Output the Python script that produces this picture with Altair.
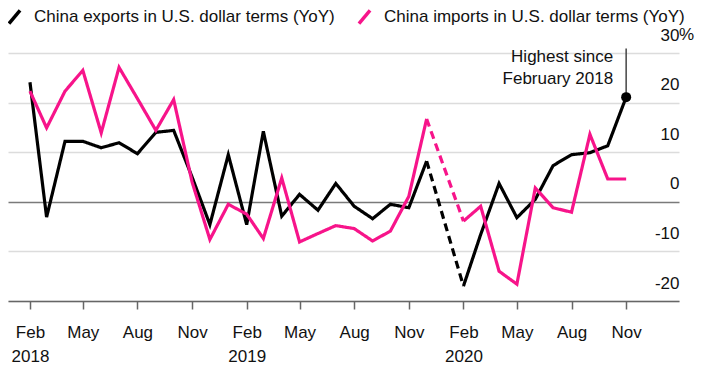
import altair as alt
import pandas as pd

# ---- data ----
months = [
    "2018-02", "2018-03", "2018-04", "2018-05", "2018-06", "2018-07", "2018-08",
    "2018-09", "2018-10", "2018-11", "2018-12",
    "2019-01", "2019-02", "2019-03", "2019-04", "2019-05", "2019-06", "2019-07",
    "2019-08", "2019-09", "2019-10", "2019-11", "2019-12",
    "2020-02", "2020-03", "2020-04", "2020-05", "2020-06", "2020-07", "2020-08",
    "2020-09", "2020-10", "2020-11",
]
exports = [24.1, -3.1, 12.2, 12.2, 10.9, 11.9, 9.7, 14.0, 14.4, 5.0, -4.6,
           9.5, -4.6, 14.2, -2.9, 1.5, -1.7, 3.7, -0.9, -3.4, -0.5, -1.2, 8.2,
           -17.0, -6.6, 3.7, -3.2, 0.5, 7.3, 9.5, 9.9, 11.3, 21.1]
imports = [22.3, 14.9, 22.3, 26.5, 13.9, 27.1, 20.8, 14.4, 20.6, 4.0, -7.6,
           -0.5, -2.5, -7.4, 4.8, -8.1, -6.4, -4.8, -5.4, -7.9, -5.9, 1.1, 16.7,
           -3.9, -0.9, -14.0, -16.6, 2.8, -1.2, -2.1, 13.6, 4.6, 4.6]
series_names = ["China exports in U.S. dollar terms (YoY)",
                "China imports in U.S. dollar terms (YoY)"]
colors = ["#000000", "#f7148a"]
y_ticks = [-20, -10, 0, 10, 20, 30]
x_tick_months = ["2018-02", "2018-05", "2018-08", "2018-11",
                 "2019-02", "2019-05", "2019-08", "2019-11",
                 "2020-02", "2020-05", "2020-08", "2020-11"]
annotation_lines = ["Highest since", "February 2018"]
annotation_top = 30.9

# ---- build table: solid before/after the Jan-2020 gap, dashed across it ----
gap_start = months.index("2019-12")
gap_end = months.index("2020-02")
rows = []
for name, vals in zip(series_names, [exports, imports]):
    for i, (m, v) in enumerate(zip(months, vals)):
        d = m + "-01"
        if i <= gap_start:
            rows.append(dict(series=name, date=d, value=v, seg="a", dash="solid"))
        if gap_start <= i <= gap_end:
            rows.append(dict(series=name, date=d, value=v, seg="b", dash="dashed"))
        if i >= gap_end:
            rows.append(dict(series=name, date=d, value=v, seg="c", dash="solid"))
df = pd.DataFrame(rows)

last = pd.DataFrame([dict(date=months[-1] + "-01", value=exports[-1], top=annotation_top)])
ann = pd.DataFrame([dict(date=months[-1] + "-01", value=30)])
pct = pd.DataFrame([dict(value=30)])


def dt(s):
    y, m = s.split("-")
    return alt.DateTime(year=int(y), month=int(m), date=1, utc=True)


X = alt.X(
    "date:T",
    title=None,
    scale=alt.Scale(type="utc", domain=[
        alt.DateTime(year=2017, month=12, date=26, utc=True),
        alt.DateTime(year=2021, month=1, date=29, utc=True)]),
    axis=alt.Axis(
        values=[dt(s) for s in x_tick_months],
        labelExpr="utcFormat(datum.value, '%m') == '02' ? [utcFormat(datum.value, '%b'), utcFormat(datum.value, '%Y')] : utcFormat(datum.value, '%b')",
        grid=False, domain=True, domainColor="#666666", domainWidth=1.5,
        ticks=True, tickColor="#666666", tickSize=8, tickWidth=1.5,
        labelPadding=15, labelFontSize=17, labelColor="#111111",
        labelLineHeight=24, labelAngle=0, labelFlush=False, labelOverlap=False,
    ),
)
Y = alt.Y(
    "value:Q",
    title=None,
    scale=alt.Scale(domain=[-20, 30], nice=False, zero=False),
    axis=alt.Axis(
        orient="right", values=y_ticks, grid=True,
        gridColor={"condition": {"test": "datum.value === 0", "value": "#7a7a7a"}, "value": "#dcdcdc"},
        gridWidth=1.5, domain=False, ticks=False, tickSize=0,
        labelAlign="right", labelBaseline="alphabetic", labelOffset=-13, labelPadding=0,
        labelFontSize=17, labelColor="#111111",
        labelExpr="datum.value < 0 ? '-' + abs(datum.value) : '' + datum.value",
    ),
)

lines = alt.Chart(df).mark_line(strokeWidth=3.2).encode(
    x=X, y=Y,
    color=alt.Color("series:N", scale=alt.Scale(domain=series_names, range=colors),
                    legend=alt.Legend(
                        title=None, orient="none", legendX=-2, legendY=-45,
                        direction="horizontal", padding=0,
                        symbolType="M-0.85,1L0.85,-1", symbolSize=170,
                        symbolStrokeWidth=3.5, labelFontSize=17, labelColor="#111111",
                        labelOffset=11, columnPadding=16, labelLimit=400)),
    strokeDash=alt.StrokeDash("dash:N", scale=alt.Scale(domain=["solid", "dashed"],
                                                         range=[[1, 0], [8, 5]]), legend=None),
    detail="seg:N",
)

ann_rule = alt.Chart(last).mark_rule(color="#444444", strokeWidth=1.5).encode(
    x=X, y=Y, y2="top:Q")
dot = alt.Chart(last).mark_point(filled=True, color="#000000", size=100, opacity=1).encode(
    x=X, y=Y)
ann_text = alt.Chart(ann).mark_text(
    text=annotation_lines, align="right", baseline="top", dx=-13, dy=-4,
    fontSize=17, lineHeight=21.6, color="#111111").encode(x=X, y=Y)
pct_text = alt.Chart(pct).mark_text(
    text="%", align="left", baseline="alphabetic", dy=-13, fontSize=17,
    color="#111111").encode(x=alt.value(671), y=Y)

chart = alt.layer(lines, ann_rule, dot, ann_text, pct_text).properties(
    width=671, height=248,
    autosize=alt.AutoSizeParams(type="none"),
    padding={"left": 0, "top": 45, "right": 20, "bottom": 67},
).configure(font="Liberation Sans", background="white").configure_view(stroke=None)

chart.save("out.html", embed_options={"renderer": "svg", "actions": False})
